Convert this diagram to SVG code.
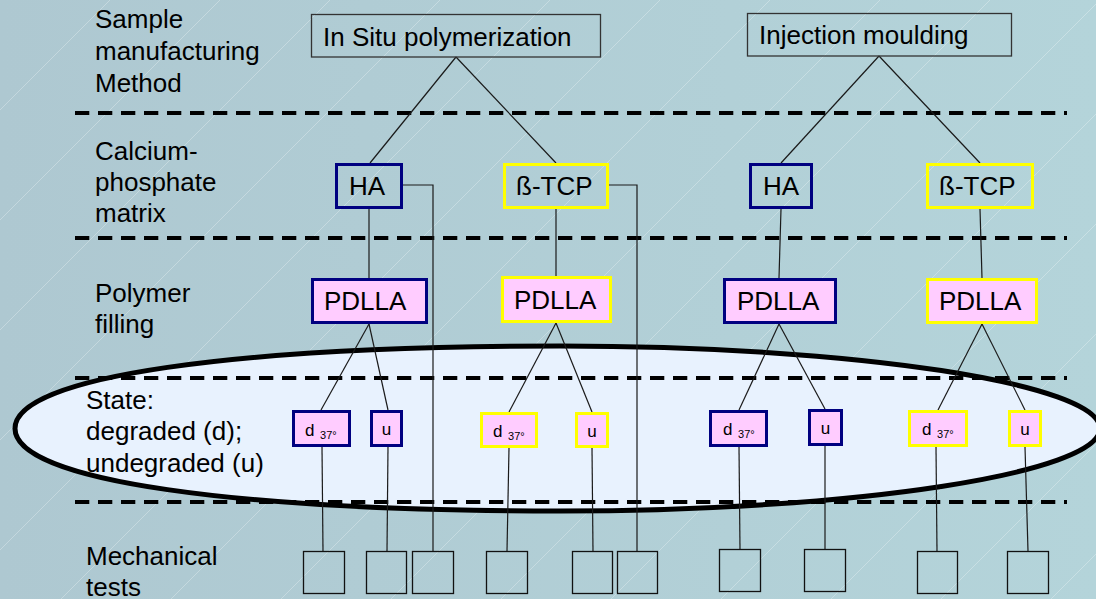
<svg xmlns="http://www.w3.org/2000/svg" width="1096" height="599" viewBox="0 0 1096 599">
<defs>
<linearGradient id="bg" x1="0" y1="0" x2="1" y2="0">
<stop offset="0" stop-color="#aec8d1"/>
<stop offset="1" stop-color="#b4d4da"/>
</linearGradient>
<pattern id="diag" patternUnits="userSpaceOnUse" width="110" height="110">
<line x1="0" y1="110" x2="110" y2="0" stroke="#ffffff" stroke-opacity="0.35" stroke-width="0.8"/>
<line x1="-10" y1="10" x2="10" y2="-10" stroke="#ffffff" stroke-opacity="0.35" stroke-width="0.8"/>
<line x1="100" y1="120" x2="120" y2="100" stroke="#ffffff" stroke-opacity="0.35" stroke-width="0.8"/>
</pattern>
</defs>
<style>
text{font-family:"Liberation Sans",Arial,sans-serif;fill:#000}
.lbl{font-size:26px}
.big{font-size:26px}
.sm{font-size:17px}
.sub{font-size:11px}
.dash{stroke:#000;stroke-width:4;stroke-dasharray:14.3 8.7;fill:none}
.con{stroke:#1a1a1a;stroke-width:1.2;fill:none}
.top{fill:none;stroke:#333;stroke-width:1.3}
.navy{fill:none;stroke:#000080;stroke-width:3}
.yel{fill:none;stroke:#ffff00;stroke-width:3}
.navyp{fill:#ffccff;stroke:#000080;stroke-width:3}
.yelp{fill:#ffccff;stroke:#ffff00;stroke-width:3}
.test{fill:none;stroke:#111;stroke-width:1.3}
</style>
<rect x="0" y="0" width="1096" height="599" fill="url(#bg)"/>
<rect x="0" y="0" width="1096" height="599" fill="url(#diag)"/>

<g id="state-ellipse">
<path d="M15,428.5 C15,375.5 240,346 560,346 C857,346 1100,384 1100,428.5 C1100,473 857,511 560,511 C240,511 15,481.5 15,428.5 Z" fill="#e8f2fe" stroke="#000" stroke-width="5"/>
</g>

<g id="separators">
<line class="dash" x1="75" y1="113" x2="1067" y2="113"/>
<line class="dash" x1="75" y1="238" x2="1067" y2="238"/>
<line class="dash" x1="75" y1="378" x2="1067" y2="378"/>
<line class="dash" x1="75" y1="502" x2="1067" y2="502"/>
</g>

<g id="row-labels">
<text class="lbl" x="95" y="28">Sample</text>
<text class="lbl" x="95" y="60">manufacturing</text>
<text class="lbl" x="95" y="92">Method</text>
<text class="lbl" x="95" y="160">Calcium-</text>
<text class="lbl" x="95" y="191">phosphate</text>
<text class="lbl" x="95" y="222">matrix</text>
<text class="lbl" x="95" y="302">Polymer</text>
<text class="lbl" x="95" y="333">filling</text>
<text class="lbl" x="86" y="409">State:</text>
<text class="lbl" x="86" y="440">degraded (d);</text>
<text class="lbl" x="86" y="472">undegraded (u)</text>
<text class="lbl" x="86" y="565">Mechanical</text>
<text class="lbl" x="86" y="596">tests</text>
</g>

<g id="connectors">
<line class="con" x1="456" y1="57" x2="370" y2="163"/>
<line class="con" x1="456" y1="57" x2="556" y2="163"/>
<line class="con" x1="879" y1="56" x2="781" y2="163"/>
<line class="con" x1="879" y1="56" x2="980" y2="163"/>
<line class="con" x1="369" y1="209" x2="369" y2="278"/>
<line class="con" x1="556" y1="209" x2="556" y2="276"/>
<line class="con" x1="781" y1="209" x2="779" y2="278"/>
<line class="con" x1="980" y1="209" x2="982" y2="278"/>
<polyline class="con" points="403,185 433,185 433,551"/>
<polyline class="con" points="609,185 637,185 637,551"/>
<line class="con" x1="369" y1="324" x2="321" y2="410"/>
<line class="con" x1="369" y1="324" x2="388" y2="410"/>
<line class="con" x1="556" y1="323" x2="509" y2="412"/>
<line class="con" x1="556" y1="323" x2="592" y2="412"/>
<line class="con" x1="779" y1="324" x2="739" y2="410"/>
<line class="con" x1="779" y1="324" x2="825" y2="409"/>
<line class="con" x1="982" y1="324" x2="938" y2="410"/>
<line class="con" x1="982" y1="324" x2="1025" y2="410"/>
<line class="con" x1="322" y1="447" x2="323" y2="551"/>
<line class="con" x1="388" y1="447" x2="387" y2="551"/>
<line class="con" x1="509" y1="448" x2="507" y2="551"/>
<line class="con" x1="592" y1="448" x2="593" y2="551"/>
<line class="con" x1="739" y1="447" x2="740" y2="549"/>
<line class="con" x1="825" y1="446" x2="825" y2="549"/>
<line class="con" x1="936" y1="447" x2="937" y2="551"/>
<line class="con" x1="1025" y1="447" x2="1028" y2="551"/>
</g>

<g id="in-situ">
<rect class="top" x="311.5" y="14.5" width="289" height="42.5"/>
<text class="big" x="323" y="45.5">In Situ polymerization</text>
</g>
<g id="injection">
<rect class="top" x="747.5" y="13.5" width="264" height="42.5"/>
<text class="big" x="759" y="44">Injection moulding</text>
</g>

<g id="ha-1">
<rect class="navy" x="336.5" y="164.5" width="65" height="43"/>
<text class="big" x="349" y="195">HA</text>
</g>
<g id="tcp-1">
<rect class="yel" x="504.5" y="164.5" width="103" height="43"/>
<text class="big" x="516" y="195">ß-TCP</text>
</g>
<g id="ha-2">
<rect class="navy" x="750.5" y="164.5" width="61" height="43"/>
<text class="big" x="763" y="195">HA</text>
</g>
<g id="tcp-2">
<rect class="yel" x="927.5" y="164.5" width="105" height="43"/>
<text class="big" x="939" y="195">ß-TCP</text>
</g>

<g id="pdlla-1">
<rect class="navyp" x="312.5" y="279.5" width="114" height="43"/>
<text class="big" x="324" y="310">PDLLA</text>
</g>
<g id="pdlla-2">
<rect class="yelp" x="502.5" y="277.5" width="108" height="44"/>
<text class="big" x="514" y="309">PDLLA</text>
</g>
<g id="pdlla-3">
<rect class="navyp" x="724.5" y="279.5" width="111" height="43"/>
<text class="big" x="737" y="310">PDLLA</text>
</g>
<g id="pdlla-4">
<rect class="yelp" x="927.5" y="279.5" width="109" height="43"/>
<text class="big" x="939" y="310">PDLLA</text>
</g>

<g id="d-1">
<rect class="navyp" x="293.5" y="411.5" width="56" height="34"/>
<text class="sm" x="305" y="435.5">d<tspan class="sub" dx="2.5" dy="3"> 37°</tspan></text>
</g>
<g id="u-1">
<rect class="navyp" x="371.5" y="411.5" width="30" height="34"/>
<text class="sm" x="386.5" y="435" text-anchor="middle">u</text>
</g>
<g id="d-2">
<rect class="yelp" x="481.5" y="413.5" width="55" height="33"/>
<text class="sm" x="493" y="437">d<tspan class="sub" dx="2.5" dy="3"> 37°</tspan></text>
</g>
<g id="u-2">
<rect class="yelp" x="576.5" y="413.5" width="31" height="33"/>
<text class="sm" x="592" y="437" text-anchor="middle">u</text>
</g>
<g id="d-3">
<rect class="navyp" x="710.5" y="411.5" width="56" height="34"/>
<text class="sm" x="723" y="435">d<tspan class="sub" dx="2.5" dy="3"> 37°</tspan></text>
</g>
<g id="u-3">
<rect class="navyp" x="809.5" y="410.5" width="32" height="34"/>
<text class="sm" x="825.5" y="434" text-anchor="middle">u</text>
</g>
<g id="d-4">
<rect class="yelp" x="909.5" y="411.5" width="57" height="34"/>
<text class="sm" x="922" y="435">d<tspan class="sub" dx="2.5" dy="3"> 37°</tspan></text>
</g>
<g id="u-4">
<rect class="yelp" x="1009.5" y="411.5" width="31" height="34"/>
<text class="sm" x="1025" y="435" text-anchor="middle">u</text>
</g>

<g id="tests">
<rect class="test" x="303.5" y="551.5" width="41" height="42"/>
<rect class="test" x="366.5" y="551.5" width="40" height="42"/>
<rect class="test" x="412.5" y="551.5" width="41" height="42"/>
<rect class="test" x="486.5" y="551.5" width="41" height="42"/>
<rect class="test" x="572.5" y="551.5" width="40" height="42"/>
<rect class="test" x="617.5" y="551.5" width="40" height="42"/>
<rect class="test" x="719.5" y="549.5" width="41" height="42"/>
<rect class="test" x="804.5" y="549.5" width="41" height="42"/>
<rect class="test" x="917.5" y="551.5" width="40" height="42"/>
<rect class="test" x="1007.5" y="551.5" width="41" height="42"/>
</g>
</svg>
